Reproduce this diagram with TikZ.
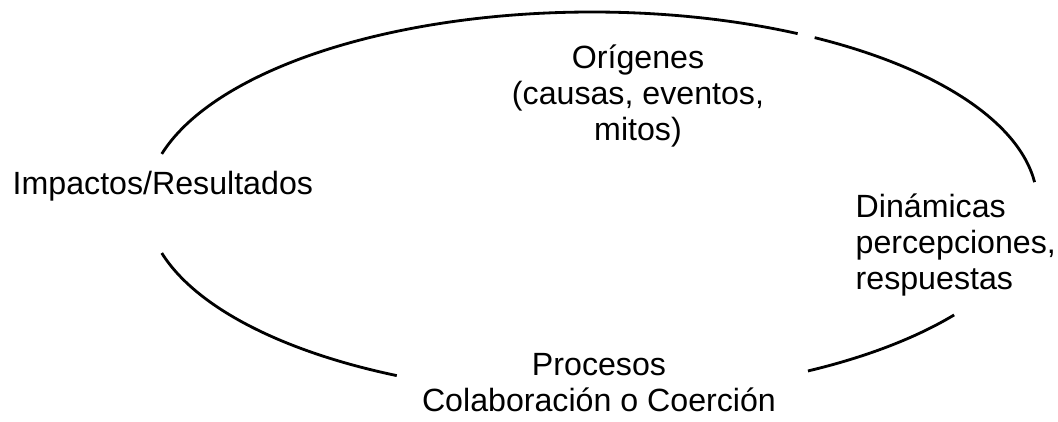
\documentclass[tikz,border=0pt]{standalone}
\usepackage{fontspec}
\setmainfont{Liberation Sans}
\usetikzlibrary{positioning}
\tikzstyle{phase} = [font=\fontsize{9.15}{10.3}\selectfont, inner sep=0pt]
\tikzstyle{ring} = [draw, line width=0.8pt]

\begin{document}
\begin{tikzpicture}
\useasboundingbox (0,0) rectangle (10.58,4.22);
% Place nodes
\coordinate (hub) at (5.92,2.185);
\node [phase, align=center, anchor=base] (origins) at (6.38,2.81)
{Orígenes\\(causas, eventos,\\mitos)};
\node [phase, anchor=base west] (impacts) at (0.12,2.27)
{Impactos/Resultados};
\node [phase, align=left, anchor=base west] (dynamics) at (8.55,1.32)
{Dinámicas\\percepciones,\\respuestas};
\node [phase, align=center, anchor=base] (processes) at (5.99,0.10)
{Procesos\\Colaboración o Coerción};

% Draw ring
\path [ring] (hub) ++(62.5:4.454 and 1.915)
arc [start angle=62.5, end angle=165, x radius=4.454, y radius=1.915];
\path [ring] (hub) ++(6.4:4.454 and 1.915)
arc [start angle=6.4, end angle=60, x radius=4.454, y radius=1.915];
\path [ring] (hub) ++(-61:4.454 and 1.915)
arc [start angle=-61, end angle=-35.6, x radius=4.454, y radius=1.915];
\path [ring] (hub) ++(-165:4.454 and 1.915)
arc [start angle=-165, end angle=-116, x radius=4.454, y radius=1.915];

\end{tikzpicture}
\end{document}
